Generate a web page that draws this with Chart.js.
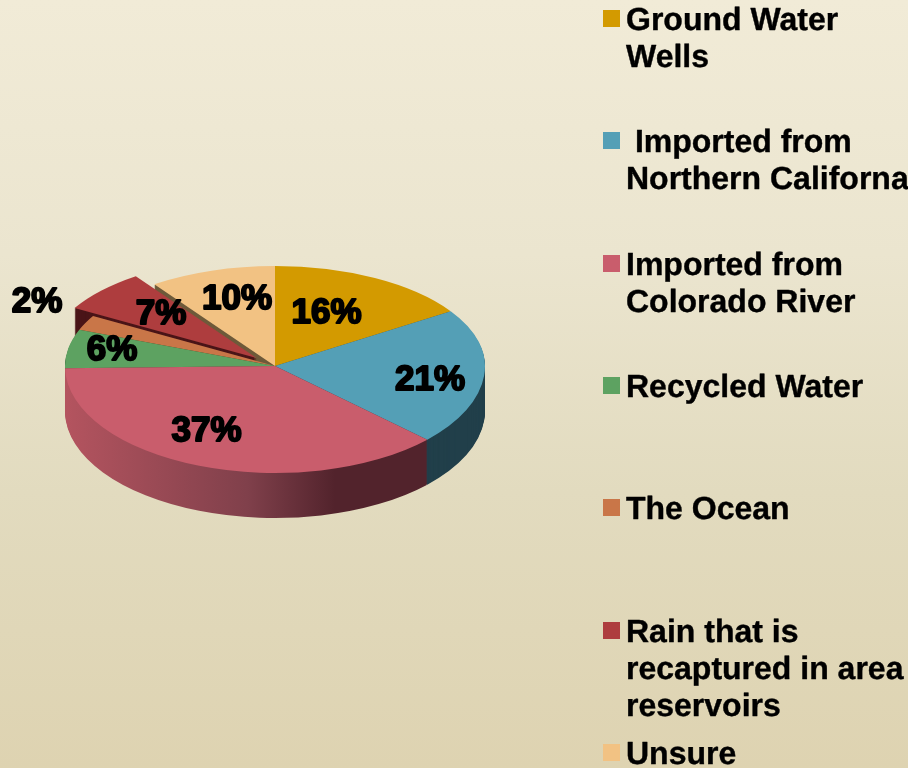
<!DOCTYPE html>
<html>
<head>
<meta charset="utf-8">
<style>
html,body{margin:0;padding:0;width:908px;height:768px;overflow:hidden;background:linear-gradient(180deg,#F1EBD7 0%,#EBE5CF 33%,#E2DBBF 64%,#DED3B1 100%);}
canvas{display:block;}
</style>
<script src="https://cdn.jsdelivr.net/npm/chart.js@4"></script>
</head>
<body>
<canvas id="c" width="908" height="768"></canvas>
<script>
const categories = [
  ["Ground Water","Wells"],
  [" Imported from","Northern Californa"],
  ["Imported from","Colorado River"],
  ["Recycled Water"],
  ["The Ocean"],
  ["Rain that is","recaptured in area","reservoirs"],
  ["Unsure"]
];
const values = [15.7,21.2,37.4,6.2,2.4,6.9,9.7];
const topColors = ["#D39A00","#549FB6","#C95D6C","#5DA261","#C97648","#AE3D3E","#F2C283"];
const sideColors = ["#6B4E00","#213F4A",null,"#2F5231","#5A3018","#4A1518","#6E5A3A"];
const exploded = [0,0,0,0,0,25,0];

const CX = 275, CY = 366, K_BACK = 100/210, K_FRONT = 107/210, DEPTH = 45;
const paintOrder = [6,0,1,5,4,3,2];
const labelCentres = [[326.5,310.5],[430,377.5],[206.5,429],[112,348],[37,299.5],[161,311.5],[237,297]];

function drawArc(ctx, arc, i, dy, color){
  const saved = arc.options;
  const o = Object.create(saved);
  o.backgroundColor = color; o.borderWidth = 0; o.offset = 0; o.spacing = 0;
  arc.options = o;
  const mid = (arc.startAngle + arc.endAngle)/2;
  [[K_BACK,0,CY+dy],[K_FRONT,CY+dy,768]].forEach(([k,y0,y1])=>{
    ctx.save();
    ctx.beginPath(); ctx.rect(0,y0,908,y1-y0); ctx.clip();
    ctx.translate(CX,CY+dy); ctx.scale(1,k); ctx.translate(-arc.x,-arc.y);
    ctx.translate(Math.cos(mid)*exploded[i],Math.sin(mid)*exploded[i]);
    arc.draw(ctx);
    ctx.restore();
  });
  arc.options = saved;
}

const pie3d = {
  id:'pie3d',
  beforeDatasetsDraw(chart){
    const ctx = chart.ctx, arcs = chart.getDatasetMeta(0).data;
    const grad = ctx.createLinearGradient(65,0,430,0);
    grad.addColorStop(0,"#B4545F");
    grad.addColorStop(0.5,"#80404B");
    grad.addColorStop(0.74,"#52232C");
    grad.addColorStop(1,"#52232C");
    paintOrder.forEach(i=>{
      const side = sideColors[i] || grad;
      for(let d=DEPTH;d>0;d--) drawArc(ctx,arcs[i],i,d,side);
      drawArc(ctx,arcs[i],i,0,topColors[i]);
    });
    return false;
  },
  afterDraw(chart){
    const ctx = chart.ctx;
    ctx.save();
    ctx.textRendering = "geometricPrecision";
    ctx.fillStyle = "#000"; ctx.strokeStyle = "#000";
    ctx.lineJoin = "round";
    ctx.textAlign = "center"; ctx.textBaseline = "alphabetic";
    ctx.font = "bold 35px 'Liberation Sans'";
    ctx.lineWidth = 2;
    values.forEach((v,i)=>{
      const [x,y] = labelCentres[i];
      const t = Math.round(v)+"%";
      ctx.fillText(t,x,y+12.3); ctx.strokeText(t,x,y+12.3);
    });
    ctx.textAlign = "left";
    ctx.font = "bold 32px 'Liberation Sans'";
    ctx.lineWidth = 0.4;
    categories.forEach((lines,i)=>{
      const top = 10 + Math.round(122.33*i);
      ctx.fillStyle = topColors[i];
      ctx.fillRect(603,top,17,17);
      ctx.fillStyle = "#000";
      lines.forEach((t,j)=>{
        ctx.fillText(t,626,top+19.5+j*37);
        ctx.strokeText(t,626,top+19.5+j*37);
      });
    });
    ctx.restore();
  }
};

new Chart(document.getElementById('c'),{
  type:'pie',
  data:{labels:categories,datasets:[{data:values,backgroundColor:topColors,borderWidth:0}]},
  options:{
    responsive:false,animation:false,events:[],
    layout:{padding:{left:65,right:423,top:100,bottom:248}},
    plugins:{legend:{display:false},tooltip:{enabled:false},title:{display:false}}
  },
  plugins:[pie3d]
});
</script>
</body>
</html>
